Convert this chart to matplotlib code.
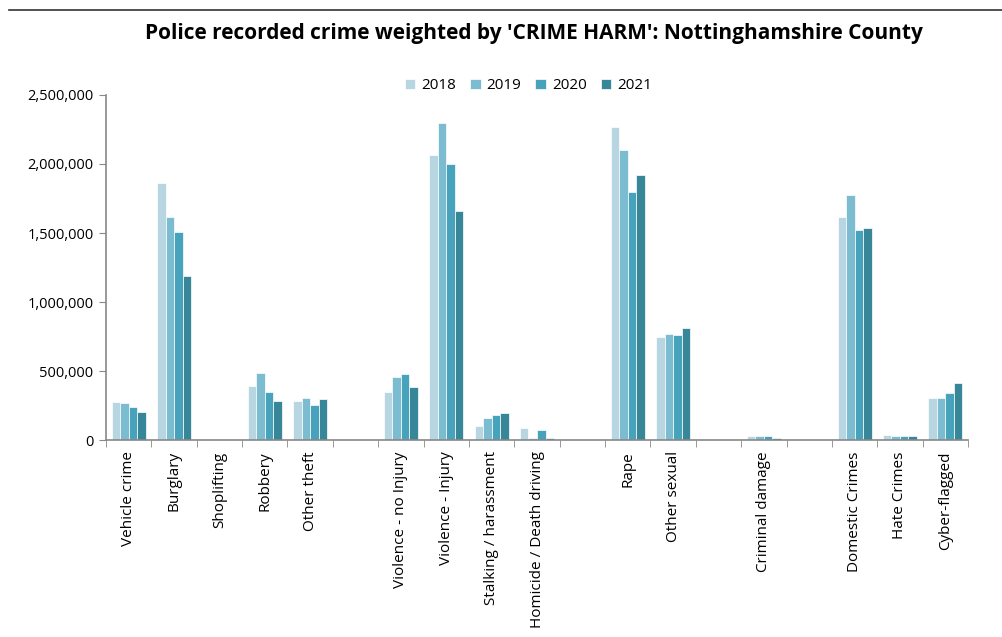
import numpy as np
import matplotlib
matplotlib.use("Agg")
import matplotlib.pyplot as plt
from matplotlib.ticker import FuncFormatter, FixedLocator

plt.rcParams['font.family'] = ['Open Sans', 'DejaVu Sans']

# categories (blank entries are the gaps between crime groups)
categories = ["Vehicle crime", "Burglary", "Shoplifting", "Robbery", "Other theft", "",
              "Violence - no Injury", "Violence - Injury", "Stalking / harassment",
              "Homicide / Death driving", "", "Rape", "Other sexual", "",
              "Criminal damage", "", "Domestic Crimes", "Hate Crimes", "Cyber-flagged"]
years = ["2018", "2019", "2020", "2021"]

v2018 = [276000, 1859000, 0, 394000, 283000, 0, 351000, 2064000, 102000, 90000, 0,
         2268000, 748000, 0, 27000, 0, 1617000, 41000, 305000]
v2019 = [269000, 1617000, 0, 486000, 307000, 0, 455000, 2299000, 162000, 19000, 0,
         2101000, 770000, 0, 29000, 0, 1772000, 27000, 305000]
v2020 = [237000, 1510000, 0, 346000, 257000, 0, 479000, 1997000, 182000, 70000, 0,
         1796000, 765000, 0, 29000, 0, 1522000, 27000, 339000]
v2021 = [201000, 1188000, 0, 283000, 295000, 0, 382000, 1663000, 196000, 19000, 0,
         1922000, 811000, 0, 19000, 0, 1534000, 27000, 411000]

colors = ["#b7d6e1", "#7bbcd1", "#47a2bb", "#388798"]

fig = plt.figure(figsize=(10.03, 6.37), dpi=100)
ax = fig.add_axes([0.1057, 0.309, 0.8594, 0.542])

x = np.arange(len(categories))
width = 0.1875
for i, (vals, yr) in enumerate(zip([v2018, v2019, v2020, v2021], years)):
    ax.bar(x + (i - 1.5) * width, vals, width, color=colors[i], label=yr,
           edgecolor="white", linewidth=0.5)

ax.set_xlim(-0.5, len(categories) - 0.5)
ax.set_ylim(0, 2500000)
ax.set_yticks(np.arange(0, 2500001, 500000))
ax.yaxis.set_major_formatter(FuncFormatter(lambda v, p: f"{int(v):,}"))

ax.set_xticks(x)
ax.set_xticklabels(categories, rotation=90, fontsize=11)
ax.xaxis.set_minor_locator(FixedLocator(np.arange(-0.5, len(categories), 1)))
ax.tick_params(axis='x', which='major', length=0, pad=8)
ax.tick_params(axis='x', which='minor', length=5, color="#888888", direction='out')
ax.tick_params(axis='y', length=5, color="#888888", labelsize=10.5, pad=4)

for s in ["top", "right"]:
    ax.spines[s].set_visible(False)
for s in ["left", "bottom"]:
    ax.spines[s].set_color("#888888")
    ax.spines[s].set_linewidth(1.2)

leg = ax.legend(loc="center", bbox_to_anchor=(0.49, 1.026), ncol=4, frameon=False,
                fontsize=11, handlelength=0.7, handleheight=0.7, handletextpad=0.4,
                columnspacing=0.9)

fig.text(0.532, 0.948, "Police recorded crime weighted by 'CRIME HARM': Nottinghamshire County",
         ha="center", va="center", fontsize=15, fontweight="bold")

fig.add_artist(plt.Line2D([0.009, 1.0], [0.985, 0.985], color="#333333", linewidth=1.2))

fig.savefig("out.png", dpi=100)
